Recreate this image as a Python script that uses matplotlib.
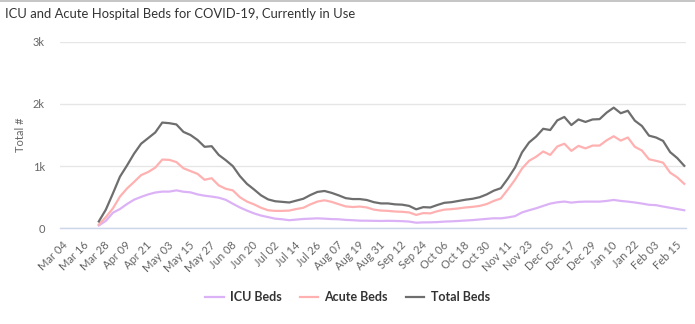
import matplotlib
matplotlib.use("Agg")
import matplotlib.pyplot as plt
from matplotlib.lines import Line2D
import pandas as pd

# beds in use, one reading every 4 days from Mar 25 2020
first_day = "2020-03-25"
step_days = 4

icu_beds = [45, 120, 250, 310, 390, 460, 505, 545, 575, 590,
            590, 610, 588, 578, 545, 524, 510, 492, 458, 395,
            335, 285, 240, 205, 180, 155, 145, 130, 140, 150,
            155, 160, 155, 148, 145, 135, 130, 123, 122, 120,
            118, 120, 118, 115, 108, 90, 95, 96, 100, 108,
            112, 118, 125, 132, 142, 152, 161, 160, 175, 195,
            255, 290, 322, 360, 397, 418, 430, 413, 425, 429,
            429, 429, 440, 456, 440, 429, 415, 398, 378, 372,
            350, 330, 310, 290]

acute_beds = [60, 180, 320, 510, 640, 745, 855, 905, 975, 1105,
              1100, 1065, 965, 920, 875, 780, 805, 690, 635, 610,
              500, 430, 385, 330, 290, 280, 280, 285, 310, 330,
              385, 430, 450, 425, 388, 352, 342, 350, 335, 300,
              285, 280, 270, 265, 255, 215, 245, 240, 275, 300,
              308, 320, 335, 345, 360, 390, 440, 480, 625, 780,
              960, 1085, 1150, 1235, 1180, 1315, 1360, 1245, 1325, 1285,
              1330, 1330, 1415, 1480, 1410, 1460, 1310, 1250, 1110, 1085,
              1055, 895, 820, 715]

total_beds = [110, 300, 560, 830, 1010, 1200, 1360, 1450, 1540, 1700,
              1690, 1670, 1550, 1500, 1420, 1310, 1320, 1180, 1095, 1000,
              840, 715, 625, 530, 465, 435, 425, 415, 445, 475,
              535, 585, 600, 570, 530, 485, 470, 470, 455, 420,
              400, 400, 385, 380, 360, 305, 340, 335, 375, 410,
              420, 440, 460, 475, 500, 545, 605, 645, 800, 975,
              1220, 1380, 1475, 1600, 1580, 1735, 1790, 1660, 1750, 1710,
              1750, 1755, 1860, 1940, 1850, 1890, 1730, 1645, 1490, 1460,
              1405, 1225, 1130, 1005]

series_names = ["ICU Beds", "Acute Beds", "Total Beds"]
series_colors = ["#dcb2f6", "#ffb1b1", "#6e6e6e"]

y_ticks = [0, 1000, 2000, 3000]
y_tick_labels = ["0", "1k", "2k", "3k"]

dates = pd.date_range(first_day, periods=len(total_beds), freq=f"{step_days}D")

plt.rcParams["font.family"] = ["Lato", "DejaVu Sans"]

fig = plt.figure(figsize=(6.95, 3.24), dpi=100)
ax = fig.add_axes([60 / 695, 1 - 228.3 / 324, 626 / 695, 186.6 / 324])

for values, name, color in zip([icu_beds, acute_beds, total_beds], series_names, series_colors):
    ax.plot(dates, values, color=color, lw=1.6, label=name, solid_joinstyle="round")

ax.set_ylim(0, 3000)
ax.set_yticks(y_ticks)
ax.set_yticklabels(y_tick_labels)
ax.set_xlim(pd.Timestamp("2020-03-03"), pd.Timestamp("2021-02-21"))

tick_dates = pd.date_range("2020-03-04", "2021-02-15", freq="12D")
ax.set_xticks(tick_dates)
ax.set_xticklabels([d.strftime("%b %d") for d in tick_dates], rotation=45,
                   ha="right", va="top", rotation_mode="anchor")

ax.grid(axis="y", color="#e6e6e6", lw=1)
ax.set_axisbelow(True)
for side in ["top", "right", "left"]:
    ax.spines[side].set_visible(False)
ax.spines["bottom"].set_color("#ccd6eb")
ax.spines["bottom"].set_linewidth(1)
ax.tick_params(axis="y", length=0, pad=11, labelsize=8, labelcolor="#666666")
ax.tick_params(axis="x", length=0, pad=8, labelsize=8, labelcolor="#666666")
ax.set_ylabel("Total #", fontsize=8, color="#666666", labelpad=5)

fig.text(5 / 695, 1 - 14 / 324, "ICU and Acute Hospital Beds for COVID-19, Currently in Use",
         fontsize=9.4, color="#333333", va="center", ha="left")

# thin border along the top edge
fig.add_artist(Line2D([0, 1], [0.998, 0.998], transform=fig.transFigure, color="#bbbbbb", lw=1.2))

leg = fig.legend(loc="center", bbox_to_anchor=(0.5, 1 - 297 / 324), ncol=3, frameon=False,
                 handlelength=1.5, handletextpad=0.5, columnspacing=1.4,
                 prop={"weight": "bold", "size": 9})
for txt in leg.get_texts():
    txt.set_color("#333333")

fig.savefig("out.png", dpi=100)
